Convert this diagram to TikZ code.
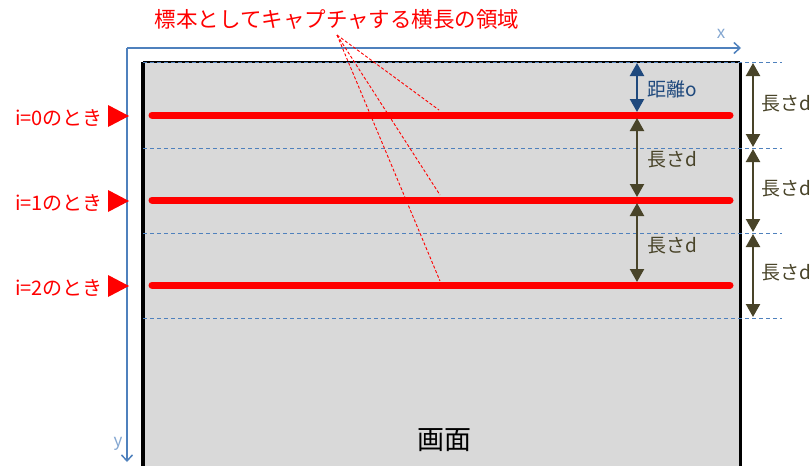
\documentclass[tikz,border=0pt]{standalone}
\usepackage{fontspec}
\setmainfont{Noto Sans CJK JP}
\usetikzlibrary{arrows.meta}
\definecolor{scrgray}{HTML}{D9D9D9}
\definecolor{axblue}{HTML}{4F81BD}
\definecolor{dimblue}{HTML}{1F497D}
\definecolor{dimolive}{HTML}{494429}
\tikzset{
  guide/.style={axblue, dashed, dash pattern=on 4pt off 3pt, line width=1pt},
  band/.style={red, line width=7pt, line cap=round},
  olive arrow/.style={dimolive, line width=2.2pt, {Triangle[length=13pt,width=14pt]}-{Triangle[length=13pt,width=14pt]}},
  blue arrow/.style={dimblue, line width=2.2pt, {Triangle[length=13pt,width=14pt]}-{Triangle[length=13pt,width=14pt]}},
  dimlabel/.style={dimolive, font=\fontsize{19}{19}\selectfont, anchor=west, inner sep=0pt},
  ilabel/.style={red, font=\fontsize{20}{20}\selectfont, anchor=east, inner sep=0pt},
  marker/.style={red, fill=red},
  callout/.style={red, dashed, dash pattern=on 3pt off 2pt, line width=0.9pt}
}
\begin{document}
\begin{tikzpicture}[x=1pt,y=-1pt]
\useasboundingbox (0,0) rectangle (811,466);
% screen
\fill[scrgray] (143,62) rectangle (740,466);
\draw[black, line width=4pt] (143,62) -- (143,466);
\draw[black, line width=3pt] (740,62) -- (740,466);
\draw[black, line width=2pt] (143,62) -- (740,62);
% axes
\coordinate (o) at (127,48);
\coordinate (xe) at (741,48);
\coordinate (ye) at (127,462);
\draw[axblue, line width=1.5pt, -{Straight Barb[length=6pt,width=11pt]}] (o) -- (xe);
\draw[axblue, line width=1.5pt, -{Straight Barb[length=6pt,width=11pt]}] (o) -- (ye);
\node[axblue!70, font=\fontsize{17}{17}\selectfont] (xl) at (721,34) {x};
\node[axblue!70, font=\fontsize{17}{17}\selectfont] (yl) at (118,444) {y};
% guide lines
\foreach \n/\yy in {g0/62,g1/148,g2/233,g3/318}{
  \coordinate (\n L) at (143,\yy);
  \coordinate (\n R) at (782,\yy);
  \draw[guide] (\n L) -- (\n R);
}
% bands
\foreach \n/\yy in {b0/115,b1/200,b2/285}{
  \coordinate (\n L) at (152,\yy);
  \coordinate (\n R) at (730,\yy);
  \draw[band] (\n L) -- (\n R);
}
% markers and labels
\foreach \n/\yy/\t in {0/116/i=0のとき,1/201/i=1のとき,2/286/i=2のとき}{
  \fill[marker] (108,\yy-11) -- (129,\yy) -- (108,\yy+11) -- cycle;
  \node[ilabel] (il\n) at (103,\yy+2) {\t};
}
% dimension arrows inside
\coordinate (a0t) at (637,63);
\coordinate (a0b) at (637,112);
\draw[blue arrow] (a0t) -- (a0b);
\node[dimlabel, dimblue] (dlo) at (647,89) {距離o};
\coordinate (a1t) at (637,118);
\coordinate (a1b) at (637,197);
\draw[olive arrow] (a1t) -- (a1b);
\node[dimlabel] (dl1) at (647,160) {長さd};
\coordinate (a2t) at (637,203);
\coordinate (a2b) at (637,282);
\draw[olive arrow] (a2t) -- (a2b);
\node[dimlabel] (dl2) at (647,246) {長さd};
% right dimension arrows
\coordinate (r1t) at (753,63);
\coordinate (r1b) at (753,147);
\draw[olive arrow] (r1t) -- (r1b);
\node[dimlabel] (rl1) at (761,104) {長さd};
\coordinate (r2t) at (753,149);
\coordinate (r2b) at (753,232);
\draw[olive arrow] (r2t) -- (r2b);
\node[dimlabel] (rl2) at (761,189) {長さd};
\coordinate (r3t) at (753,234);
\coordinate (r3b) at (753,317);
\draw[olive arrow] (r3t) -- (r3b);
\node[dimlabel] (rl3) at (761,273) {長さd};
% title and callouts
\node[red, font=\fontsize{21.5}{21.5}\selectfont, inner sep=0pt] (title) at (337,19) {標本としてキャプチャする横長の領域};
\coordinate (c0) at (337,35);
\coordinate (e0) at (439,110);
\coordinate (e1) at (440,195);
\coordinate (e2) at (440,281);
\draw[callout] (c0) -- (e0);
\draw[callout] (c0) -- (e1);
\draw[callout] (c0) -- (e2);
% screen label
\node[black, font=\fontsize{27}{27}\selectfont, inner sep=0pt] (scr) at (444,440) {画面};
\end{tikzpicture}
\end{document}
